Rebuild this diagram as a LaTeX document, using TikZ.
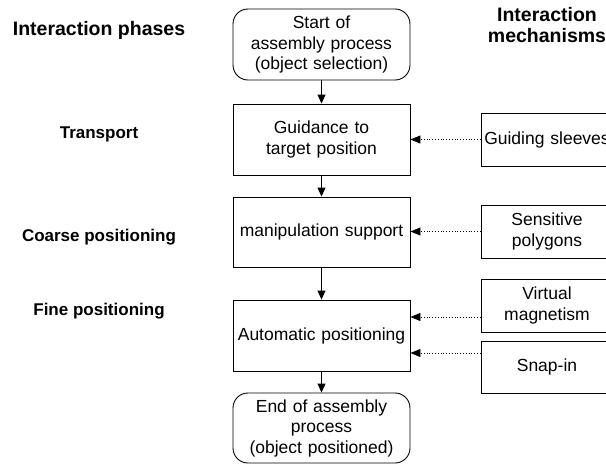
\documentclass[tikz,border=0pt]{standalone}
\usepackage{fontspec}
\setmainfont{Liberation Sans}
\usetikzlibrary{arrows.meta}
\begin{document}
\begin{tikzpicture}[x=1pt,y=-1pt,
  every node/.style={font=\fontsize{17.5}{20.5}\selectfont},
  phase/.style={draw,line width=0.9pt,minimum width=177pt,minimum height=71pt,
    inner sep=0pt,align=center,text width=170pt},
  terminal/.style={phase,rounded corners=15pt},
  mech/.style={draw,line width=0.9pt,minimum width=132pt,minimum height=53pt,
    inner sep=0pt,align=center,text width=130pt},
  heading/.style={font=\fontsize{19.5}{21.5}\selectfont\bfseries,align=center},
  stage/.style={font=\fontsize{17}{20}\selectfont\bfseries,align=center},
  flow/.style={line width=0.9pt,-{Triangle[width=8pt,length=9pt]}},
  assist/.style={line width=0.8pt,dotted,-{Triangle[width=8pt,length=10pt]}}]
\clip (0,0) rectangle (606,464);

% interaction phases (left column)
\node[heading] (hphase) at (99,30) {Interaction phases};
\node[stage] (htrans) at (99,134) {Transport};
\node[stage] (hcoarse) at (99,237) {Coarse positioning};
\node[stage] (hfine) at (99,311) {Fine positioning};

% interaction mechanisms (right column)
\node[heading] (hmech) at (547,25) {Interaction\\mechanisms};

% assembly process flow
\node[terminal] (start) at (321.5,44.5) {Start of\\assembly process\\(object selection)};
\node[phase] (guide) at (321.5,139.5) {Guidance to\\target position};
\node[phase,minimum height=70pt] (manip) at (321.5,232) {manipulation support};
\node[phase] (auto) at (321.5,335.5) {Automatic positioning};
\node[terminal,minimum height=70pt] (end) at (321.5,428) {End of assembly\\process\\(object positioned)};

% mechanisms
\node[mech] (sleeve) at (547,139.5) {Guiding sleeves};
\node[mech] (poly) at (547,231.5) {Sensitive\\polygons};
\node[mech] (magnet) at (547,305.5) {Virtual\\magnetism};
\node[mech,minimum height=52pt] (snap) at (547,367) {Snap-in};

% flow connectors
\draw[flow] (start) -- (guide);
\draw[flow] (guide) -- (manip);
\draw[flow] (manip) -- (auto);
\draw[flow] (auto) -- (end);

% mechanism connectors
\draw[assist] (sleeve.west) -- (sleeve.west -| guide.east);
\draw[assist] (poly.west) -- (poly.west -| manip.east);
\draw[assist] ([yshift=-11.5pt]magnet.west) -- ([yshift=-11.5pt]magnet.west -| auto.east);
\draw[assist] ([yshift=14pt]snap.west) -- ([yshift=14pt]snap.west -| auto.east);
\end{tikzpicture}
\end{document}
